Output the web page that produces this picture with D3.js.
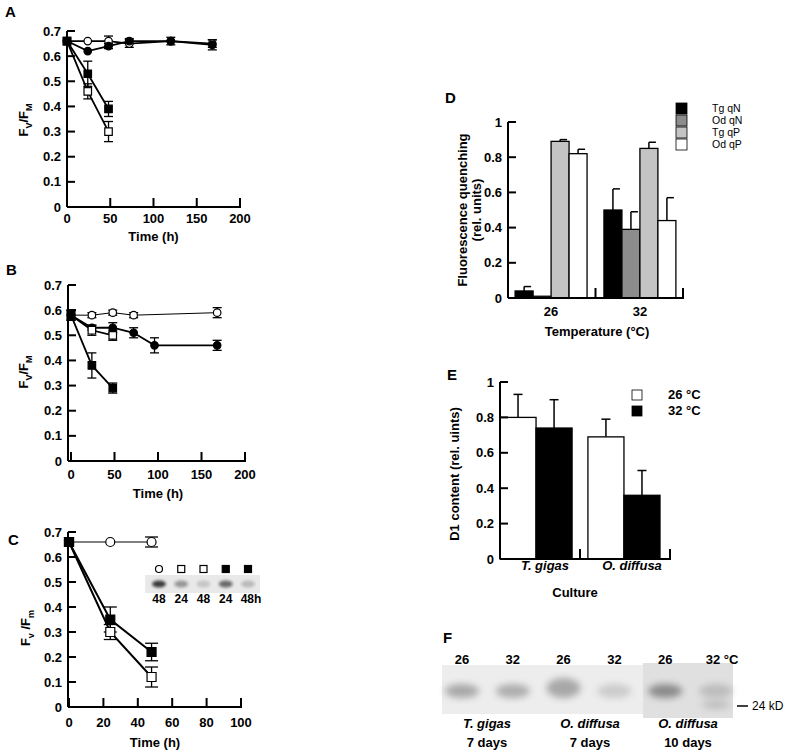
<!DOCTYPE html>
<html>
<head>
<meta charset="utf-8">
<script src="https://cdn.jsdelivr.net/npm/d3@7"></script>
<style>
body { margin: 0; background: #fff; }
svg { font-family: "Liberation Sans", Arial, sans-serif; font-weight: bold; }
</style>
</head>
<body>
<svg id="fig" width="800" height="756"></svg>
<script>
// ---- Panel A (Fv/Fm vs time) ----
const aOpenCircleT = [0, 24, 48, 72, 120, 168];
const aOpenCircleV = [0.66, 0.66, 0.66, 0.65, 0.66, 0.65];
const aOpenCircleE = [0, 0, 0.02, 0.015, 0, 0.015];
const aFilledCircleT = [0, 24, 48, 72, 120, 168];
const aFilledCircleV = [0.66, 0.62, 0.64, 0.66, 0.66, 0.645];
const aFilledCircleE = [0, 0, 0.01, 0.01, 0.015, 0.02];
const aFilledSquareT = [0, 24, 48];
const aFilledSquareV = [0.66, 0.53, 0.39];
const aFilledSquareE = [0, 0.05, 0.03];
const aOpenSquareT = [0, 24, 48];
const aOpenSquareV = [0.66, 0.46, 0.30];
const aOpenSquareE = [0, 0.03, 0.04];

// ---- Panel B ----
const bOpenCircleT = [0, 24, 48, 72, 168];
const bOpenCircleV = [0.58, 0.58, 0.59, 0.58, 0.59];
const bOpenCircleE = [0.02, 0.01, 0.01, 0.01, 0.02];
const bFilledCircleT = [0, 24, 48, 72, 96, 168];
const bFilledCircleV = [0.58, 0.53, 0.53, 0.51, 0.46, 0.46];
const bFilledCircleE = [0, 0.01, 0.02, 0.02, 0.03, 0.02];
const bOpenSquareT = [0, 24, 48];
const bOpenSquareV = [0.58, 0.52, 0.50];
const bOpenSquareE = [0.02, 0.02, 0.02];
const bFilledSquareT = [0, 24, 48];
const bFilledSquareV = [0.58, 0.38, 0.29];
const bFilledSquareE = [0.02, 0.05, 0.02];

// ---- Panel C ----
const cOpenCircleT = [0, 24, 48];
const cOpenCircleV = [0.66, 0.66, 0.66];
const cOpenCircleE = [0, 0, 0.02];
const cOpenSquareT = [0, 24, 48];
const cOpenSquareV = [0.66, 0.30, 0.12];
const cOpenSquareE = [0, 0.03, 0.04];
const cFilledSquareT = [0, 24, 48];
const cFilledSquareV = [0.66, 0.35, 0.22];
const cFilledSquareE = [0, 0.05, 0.035];
// inset blot
const cBlotSymbols = ['circle-open', 'square-open', 'square-open', 'square-filled', 'square-filled'];
const cBlotLabels = ['48', '24', '48', '24', '48h'];
const cBlotIntensity = [0.75, 0.35, 0.15, 0.55, 0.2];

const fvTicks = [0, 0.1, 0.2, 0.3, 0.4, 0.5, 0.6, 0.7];
const longTimeTicks = [0, 50, 100, 150, 200];
const shortTimeTicks = [0, 20, 40, 60, 80, 100];

// ---- Panel D (quenching) ----
const dTemps = ['26', '32'];
const dSeries = ['Tg qN', 'Od qN', 'Tg qP', 'Od qP'];
const dColors = ['#000', '#8c8c8c', '#c4c4c4', '#fff'];
const dValues26 = [0.04, 0.01, 0.89, 0.82];
const dValues32 = [0.50, 0.39, 0.85, 0.44];
const dErr26 = [0.025, 0, 0.01, 0.025];
const dErr32 = [0.12, 0.10, 0.035, 0.13];

// ---- Panel E (D1 content) ----
const eCultures = ['T. gigas', 'O. diffusa'];
const eTemps = ['26 °C', '32 °C'];
const eColors = ['#fff', '#000'];
const eValues26 = [0.80, 0.69];
const eValues32 = [0.74, 0.36];
const eErr26 = [0.13, 0.10];
const eErr32 = [0.16, 0.14];
const unitTicks = [0, 0.2, 0.4, 0.6, 0.8, 1];

// ---- Panel F (blot) ----
const fLaneTemps = ['26', '32', '26', '32', '26', '32 °C'];
const fBandIntensity = [0.45, 0.42, 0.45, 0.22, 0.62, 0.25];
const fGroupNames = ['T. gigas', 'O. diffusa', 'O. diffusa'];
const fGroupDays = ['7 days', '7 days', '10 days'];

const svg = d3.select('#fig');
const fmt = d3.format('~g');

// blur for gel bands
const defs = svg.append('defs');
defs.append('filter').attr('id', 'blur').attr('x', '-50%').attr('y', '-100%')
    .attr('width', '200%').attr('height', '300%')
    .append('feGaussianBlur').attr('stdDeviation', 3.5);
defs.append('filter').attr('id', 'blurSmall').attr('x', '-50%').attr('y', '-100%')
    .attr('width', '200%').attr('height', '300%')
    .append('feGaussianBlur').attr('stdDeviation', 1.8);

function mk(t, v, e, shape, fill, lw) {
    return { shape: shape, fill: fill, lw: lw, pts: t.map((d, i) => ({ t: d, v: v[i], e: e[i] })) };
}

function panelLetter(x, y, s) {
    svg.append('text').attr('x', x).attr('y', y).attr('font-size', 15).text(s);
}

function fvLabel(x, y, sub1, sub2) {
    const t = svg.append('text').attr('transform', `translate(${x},${y}) rotate(-90)`)
        .attr('text-anchor', 'middle').attr('font-size', 13);
    t.append('tspan').text('F');
    t.append('tspan').attr('font-size', 9).attr('dy', 4).text(sub1);
    t.append('tspan').attr('dy', -4).text(sub1 === 'v' ? ' /F' : '/F');
    t.append('tspan').attr('font-size', 9).attr('dy', 4).text(sub2);
}

function lineChart(cfg) {
    const g = svg.append('g');
    const x = d3.scaleLinear().domain(cfg.xDomain).range(cfg.xRange);
    const y = d3.scaleLinear().domain([0, 0.7]).range(cfg.yRange);
    const ax = cfg.axisX;

    // axes lines
    g.append('line').attr('x1', ax).attr('x2', ax).attr('y1', y(0)).attr('y2', y(0.7))
        .attr('stroke', '#000').attr('stroke-width', 2);
    g.append('line').attr('x1', ax).attr('x2', x(cfg.xDomain[1]) + 1).attr('y1', y(0)).attr('y2', y(0))
        .attr('stroke', '#000').attr('stroke-width', 2);

    fvTicks.forEach(d => {
        g.append('line').attr('x1', ax).attr('x2', ax + 8).attr('y1', y(d)).attr('y2', y(d))
            .attr('stroke', '#000').attr('stroke-width', 2);
        g.append('text').attr('x', ax - 6).attr('y', y(d)).attr('dy', '0.35em')
            .attr('text-anchor', 'end').attr('font-size', 13).text(fmt(d));
    });
    cfg.xTicks.forEach(d => {
        g.append('line').attr('x1', x(d)).attr('x2', x(d)).attr('y1', y(0)).attr('y2', y(0) - 9)
            .attr('stroke', '#000').attr('stroke-width', 2);
        g.append('text').attr('x', x(d)).attr('y', y(0) + cfg.labelGap)
            .attr('text-anchor', 'middle').attr('font-size', 13).text(d);
    });
    g.append('text').attr('x', (cfg.xRange[0] + cfg.xRange[1]) / 2).attr('y', y(0) + cfg.titleGap)
        .attr('text-anchor', 'middle').attr('font-size', 13).text('Time (h)');

    const line = d3.line().x(d => x(d.t)).y(d => y(d.v));

    cfg.series.forEach(s => {
        g.append('path').attr('d', line(s.pts)).attr('fill', 'none')
            .attr('stroke', '#000').attr('stroke-width', s.lw);
    });
    cfg.series.forEach(s => {
        s.pts.filter(p => p.e > 0).forEach(p => {
            const eg = g.append('g').attr('stroke', '#000').attr('stroke-width', 1.3);
            eg.append('line').attr('x1', x(p.t)).attr('x2', x(p.t)).attr('y1', y(p.v - p.e)).attr('y2', y(p.v + p.e));
            [p.v - p.e, p.v + p.e].forEach(v => {
                eg.append('line').attr('x1', x(p.t) - cfg.capW / 2).attr('x2', x(p.t) + cfg.capW / 2)
                    .attr('y1', y(v)).attr('y2', y(v));
            });
        });
    });
    cfg.series.forEach(s => {
        const sz = s.shape === 'circle' ? Math.PI * Math.pow(cfg.mSize / 2, 2) : cfg.mSize * cfg.mSize;
        const sym = d3.symbol().type(s.shape === 'circle' ? d3.symbolCircle : d3.symbolSquare).size(sz);
        g.selectAll(null).data(s.pts).join('path')
            .attr('d', sym)
            .attr('transform', d => `translate(${x(d.t)},${y(d.v)})`)
            .attr('fill', s.fill).attr('stroke', '#000').attr('stroke-width', 1.2);
    });
    return { x: x, y: y };
}

// ---- A ----
panelLetter(5, 17, 'A');
lineChart({
    xDomain: [0, 200], xRange: [67, 240], yRange: [207, 31], axisX: 67,
    xTicks: longTimeTicks, labelGap: 16, titleGap: 34, capW: 9, mSize: 7.5,
    series: [
        mk(aOpenCircleT, aOpenCircleV, aOpenCircleE, 'circle', '#fff', 1.8),
        mk(aFilledCircleT, aFilledCircleV, aFilledCircleE, 'circle', '#000', 1.8),
        mk(aOpenSquareT, aOpenSquareV, aOpenSquareE, 'square', '#fff', 1.8),
        mk(aFilledSquareT, aFilledSquareV, aFilledSquareE, 'square', '#000', 1.8)
    ]
});
fvLabel(28, 120, 'V', 'M');

// ---- B ----
panelLetter(6, 275, 'B');
lineChart({
    xDomain: [0, 200], xRange: [71, 245], yRange: [461, 285], axisX: 68,
    xTicks: longTimeTicks, labelGap: 18, titleGap: 37, capW: 9, mSize: 7.5,
    series: [
        mk(bOpenCircleT, bOpenCircleV, bOpenCircleE, 'circle', '#fff', 1),
        mk(bFilledCircleT, bFilledCircleV, bFilledCircleE, 'circle', '#000', 1.8),
        mk(bOpenSquareT, bOpenSquareV, bOpenSquareE, 'square', '#fff', 1.8),
        mk(bFilledSquareT, bFilledSquareV, bFilledSquareE, 'square', '#000', 1.8)
    ]
});
fvLabel(28, 372, 'V', 'M');

// ---- C ----
panelLetter(8, 545, 'C');
lineChart({
    xDomain: [0, 100], xRange: [69, 241], yRange: [707, 532], axisX: 68,
    xTicks: shortTimeTicks, labelGap: 20, titleGap: 40, capW: 13, mSize: 9,
    series: [
        mk(cOpenCircleT, cOpenCircleV, cOpenCircleE, 'circle', '#fff', 1),
        mk(cOpenSquareT, cOpenSquareV, cOpenSquareE, 'square', '#fff', 2),
        mk(cFilledSquareT, cFilledSquareV, cFilledSquareE, 'square', '#000', 2)
    ]
});
fvLabel(30, 628, 'v', 'm');

// inset blot in C
(function () {
    const lane = d3.scalePoint().domain(d3.range(cBlotLabels.length)).range([159, 248]);
    const g = svg.append('g');
    g.append('rect').attr('x', 145).attr('y', 575).attr('width', 115).attr('height', 18).attr('fill', '#e9e9e9');
    cBlotIntensity.forEach((v, i) => {
        g.append('ellipse').attr('cx', lane(i)).attr('cy', 584).attr('rx', 7).attr('ry', 3.5)
            .attr('fill', '#000').attr('opacity', v).attr('filter', 'url(#blurSmall)');
    });
    cBlotSymbols.forEach((s, i) => {
        if (s === 'circle-open') {
            g.append('circle').attr('cx', lane(i)).attr('cy', 569).attr('r', 3.5)
                .attr('fill', '#fff').attr('stroke', '#000').attr('stroke-width', 1.2);
        } else {
            g.append('rect').attr('x', lane(i) - 3.5).attr('y', 565.5).attr('width', 7).attr('height', 7)
                .attr('fill', s === 'square-filled' ? '#000' : '#fff').attr('stroke', '#000').attr('stroke-width', 1.2);
        }
    });
    cBlotLabels.forEach((s, i) => {
        g.append('text').attr('x', lane(i) + (i === 4 ? 3 : 0)).attr('y', 603).attr('text-anchor', 'middle')
            .attr('font-size', 12).text(s);
    });
})();

// ---- D ----
panelLetter(445, 103, 'D');
(function () {
    const y = d3.scaleLinear().domain([0, 1]).range([298, 122]);
    const x0 = d3.scaleBand().domain(dTemps).range([508, 683]).paddingInner(0.19).paddingOuter(0.08);
    const x1 = d3.scaleBand().domain(dSeries).range([0, x0.bandwidth()]);
    const g = svg.append('g');
    const rows = [dValues26, dValues32];
    const errs = [dErr26, dErr32];

    dTemps.forEach((t, ti) => {
        dSeries.forEach((s, si) => {
            const v = rows[ti][si], e = errs[ti][si];
            const bx = x0(t) + x1(s);
            if (e > 0) {
                g.append('line').attr('x1', bx + x1.bandwidth() / 2).attr('x2', bx + x1.bandwidth() / 2)
                    .attr('y1', y(v)).attr('y2', y(v + e)).attr('stroke', '#000').attr('stroke-width', 1.5);
                g.append('line').attr('x1', bx + x1.bandwidth() / 2).attr('x2', bx + x1.bandwidth() / 2 + 7)
                    .attr('y1', y(v + e)).attr('y2', y(v + e)).attr('stroke', '#000').attr('stroke-width', 1.5);
            }
            g.append('rect').attr('x', bx).attr('y', y(v)).attr('width', x1.bandwidth()).attr('height', y(0) - y(v))
                .attr('fill', dColors[si]).attr('stroke', '#000').attr('stroke-width', 1.3);
        });
    });

    // axes
    g.append('line').attr('x1', 508).attr('x2', 508).attr('y1', y(0)).attr('y2', y(1)).attr('stroke', '#000').attr('stroke-width', 2);
    g.append('line').attr('x1', 508).attr('x2', 684).attr('y1', y(0)).attr('y2', y(0)).attr('stroke', '#000').attr('stroke-width', 2);
    unitTicks.forEach(d => {
        g.append('line').attr('x1', 508).attr('x2', 516).attr('y1', y(d)).attr('y2', y(d)).attr('stroke', '#000').attr('stroke-width', 2);
        g.append('text').attr('x', 502).attr('y', y(d)).attr('dy', '0.35em').attr('text-anchor', 'end')
            .attr('font-size', 13).text(fmt(d));
    });
    const step = x0.step();
    [x0(dTemps[0]) + x0.bandwidth() + (step - x0.bandwidth()) / 2, 683].forEach(xx => {
        g.append('line').attr('x1', xx).attr('x2', xx).attr('y1', y(0)).attr('y2', y(0) - 10).attr('stroke', '#000').attr('stroke-width', 2);
    });
    dTemps.forEach(t => {
        g.append('text').attr('x', x0(t) + x0.bandwidth() / 2).attr('y', 316).attr('text-anchor', 'middle')
            .attr('font-size', 13).text(t);
    });
    g.append('text').attr('x', 597).attr('y', 336).attr('text-anchor', 'middle').attr('font-size', 13).text('Temperature (°C)');

    const yl = g.append('text').attr('transform', 'translate(467,210) rotate(-90)').attr('text-anchor', 'middle').attr('font-size', 13);
    yl.append('tspan').attr('x', 0).attr('dy', 0).text('Fluorescence quenching');
    yl.append('tspan').attr('x', 0).attr('dy', 14).text('(rel. units)');

    // legend, packed tightly as in the original
    dSeries.forEach((s, i) => {
        g.append('rect').attr('x', 676).attr('y', 103 + i * 12).attr('width', 11).attr('height', 11)
            .attr('fill', dColors[i]).attr('stroke', '#000').attr('stroke-width', 0.8);
        g.append('text').attr('x', 712).attr('y', 112 + i * 12).attr('font-size', 10.5).attr('font-weight', 'normal')
            .text(s);
    });
})();

// ---- E ----
panelLetter(447, 380, 'E');
(function () {
    const y = d3.scaleLinear().domain([0, 1]).range([559, 382]);
    const x0 = d3.scaleBand().domain(eCultures).range([500, 660]).paddingInner(0.18).paddingOuter(0);
    const x1 = d3.scaleBand().domain(eTemps).range([0, x0.bandwidth()]);
    const g = svg.append('g');
    const rows = [eValues26, eValues32];
    const errs = [eErr26, eErr32];

    eCultures.forEach((c, ci) => {
        eTemps.forEach((t, ti) => {
            const v = rows[ti][ci], e = errs[ti][ci];
            const bx = x0(c) + x1(t);
            const cx = bx + x1.bandwidth() / 2;
            g.append('line').attr('x1', cx).attr('x2', cx).attr('y1', y(v)).attr('y2', y(v + e)).attr('stroke', '#000').attr('stroke-width', 1.5);
            g.append('line').attr('x1', cx - 4.5).attr('x2', cx + 4.5).attr('y1', y(v + e)).attr('y2', y(v + e)).attr('stroke', '#000').attr('stroke-width', 1.5);
            g.append('rect').attr('x', bx).attr('y', y(v)).attr('width', x1.bandwidth()).attr('height', y(0) - y(v))
                .attr('fill', eColors[ti]).attr('stroke', '#000').attr('stroke-width', 1.3);
        });
    });

    g.append('line').attr('x1', 500).attr('x2', 500).attr('y1', y(0)).attr('y2', y(1)).attr('stroke', '#000').attr('stroke-width', 2);
    g.append('line').attr('x1', 500).attr('x2', 671).attr('y1', y(0)).attr('y2', y(0)).attr('stroke', '#000').attr('stroke-width', 2);
    unitTicks.forEach(d => {
        g.append('line').attr('x1', 500).attr('x2', 508).attr('y1', y(d)).attr('y2', y(d)).attr('stroke', '#000').attr('stroke-width', 2);
        g.append('text').attr('x', 494).attr('y', y(d)).attr('dy', '0.35em').attr('text-anchor', 'end')
            .attr('font-size', 13).text(fmt(d));
    });
    const step = x0.step();
    [x0(eCultures[0]) + x0.bandwidth() + (step - x0.bandwidth()) / 2, 670].forEach(xx => {
        g.append('line').attr('x1', xx).attr('x2', xx).attr('y1', y(0)).attr('y2', y(0) - 10).attr('stroke', '#000').attr('stroke-width', 2);
    });
    [545, 632].forEach((xx, i) => {
        g.append('text').attr('x', xx).attr('y', 570).attr('text-anchor', 'middle').attr('font-size', 13)
            .attr('font-style', 'italic').text(eCultures[i]);
    });
    g.append('text').attr('x', 575).attr('y', 597).attr('text-anchor', 'middle').attr('font-size', 13).text('Culture');
    g.append('text').attr('transform', 'translate(459,474) rotate(-90)').attr('text-anchor', 'middle')
        .attr('font-size', 13).text('D1 content (rel. uints)');

    eTemps.forEach((t, i) => {
        g.append('rect').attr('x', 632).attr('y', 390 + i * 16).attr('width', 10).attr('height', 10)
            .attr('fill', eColors[i]).attr('stroke', '#000').attr('stroke-width', 0.8);
        g.append('text').attr('x', 668).attr('y', 399 + i * 16).attr('font-size', 13).text(t);
    });
})();

// ---- F (blot) ----
panelLetter(443, 643, 'F');
(function () {
    const lane = d3.scalePoint().domain(d3.range(fLaneTemps.length)).range([462, 716]);
    const g = svg.append('g');
    g.append('rect').attr('x', 442).attr('y', 665).attr('width', 201).attr('height', 49).attr('fill', '#ededed');
    g.append('rect').attr('x', 643).attr('y', 663).attr('width', 90).attr('height', 55).attr('fill', '#e0e0e0');
    fBandIntensity.forEach((v, i) => {
        g.append('ellipse').attr('cx', lane(i)).attr('cy', i === 2 ? 688 : 691).attr('rx', 17).attr('ry', i === 2 ? 10 : 7)
            .attr('fill', '#555').attr('opacity', v).attr('filter', 'url(#blur)');
    });
    // faint lower band in the last lane
    g.append('ellipse').attr('cx', lane(5)).attr('cy', 705).attr('rx', 15).attr('ry', 4)
        .attr('fill', '#555').attr('opacity', 0.25).attr('filter', 'url(#blur)');

    fLaneTemps.forEach((t, i) => {
        g.append('text').attr('x', lane(i) + (i === 5 ? 6 : 0)).attr('y', 664).attr('text-anchor', 'middle')
            .attr('font-size', 13).text(t);
    });
    g.append('line').attr('x1', 737).attr('x2', 748).attr('y1', 706).attr('y2', 706).attr('stroke', '#000').attr('stroke-width', 1.5);
    g.append('text').attr('x', 752).attr('y', 710).attr('font-size', 12).attr('font-weight', 'normal').text('24 kD');

    [487, 590, 688].forEach((xx, i) => {
        g.append('text').attr('x', xx).attr('y', 728).attr('text-anchor', 'middle').attr('font-size', 13)
            .attr('font-style', 'italic').text(fGroupNames[i]);
        g.append('text').attr('x', xx).attr('y', 747).attr('text-anchor', 'middle').attr('font-size', 13)
            .text(fGroupDays[i]);
    });
})();
</script>
</body>
</html>
